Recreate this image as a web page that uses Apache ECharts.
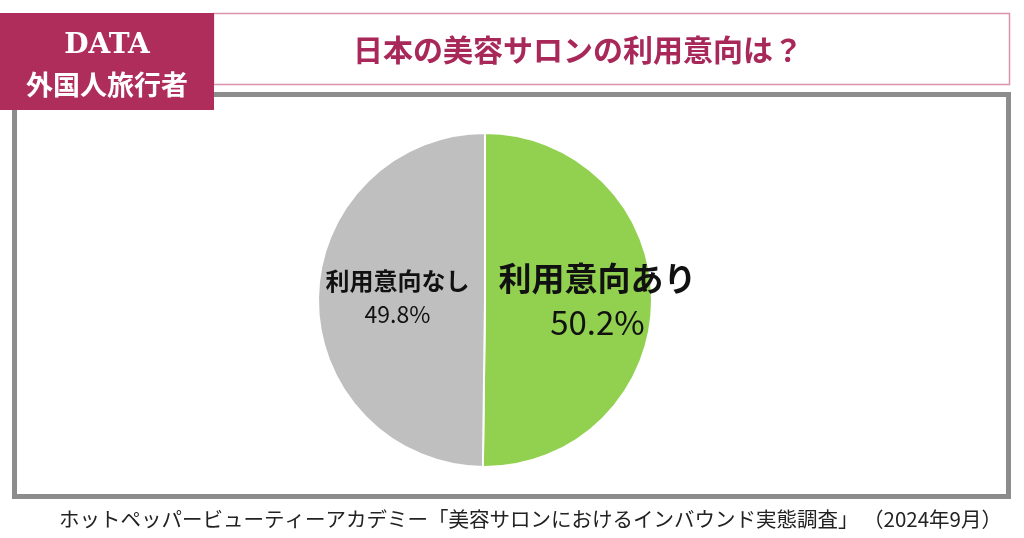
<!DOCTYPE html>
<html><head><meta charset="utf-8">
<script src="https://cdn.jsdelivr.net/npm/echarts@6/dist/echarts.min.js"></script>
<style>html,body{margin:0;padding:0;background:#fff}#c{width:1024px;height:538px}</style>
</head><body><div id="c"></div>
<script>
const categories = ['利用意向あり', '利用意向なし'];
const values = [50.2, 49.8];
const titleText = '日本の美容サロンの利用意向は？';
const badgeTop = 'DATA';
const badgeBottom = '外国人旅行者';
const sourceText = 'ホットペッパービューティーアカデミー「美容サロンにおけるインバウンド実態調査」 （2024年9月）';

const chart = echarts.init(document.getElementById('c'));
const font = '"Noto Sans CJK JP", "Noto Sans", sans-serif';
chart.setOption({
  animation: false,
  backgroundColor: '#fff',
  graphic: [
    { type: 'rect', shape: { x: 14.5, y: 94.5, width: 994, height: 402 }, style: { fill: '#fff', stroke: '#8c8c8c', lineWidth: 5 }, z: 1 },
    { type: 'rect', shape: { x: 213.5, y: 13.5, width: 796, height: 71 }, style: { fill: '#fff', stroke: '#D993AC', lineWidth: 1.5 }, z: 2 },
    { type: 'rect', shape: { x: 0, y: 13, width: 214, height: 97 }, style: { fill: '#AE2D5A' }, z: 3 },
    { type: 'text', x: 107, y: 46, style: { text: badgeTop, fill: '#fff', font: 'bold 28px "DejaVu Serif", serif', align: 'center', verticalAlign: 'middle', textShadowColor: 'rgba(0,0,0,0.35)', textShadowOffsetX: 1, textShadowOffsetY: 1, textShadowBlur: 0 }, z: 4 },
    { type: 'text', x: 107, y: 85, style: { text: badgeBottom, fill: '#fff', font: 'bold 27px ' + font, align: 'center', verticalAlign: 'middle' }, z: 4 },
    { type: 'text', x: 578, y: 50, style: { text: titleText, fill: '#A8285A', font: 'bold 30px ' + font, align: 'center', verticalAlign: 'middle' }, z: 4 },
    { type: 'text', x: 1002, y: 519, style: { text: sourceText, fill: '#222', font: '20.5px ' + font, align: 'right', verticalAlign: 'middle' }, z: 4 }
  ],
  series: [{
    type: 'pie',
    center: [485, 300],
    radius: 167,
    startAngle: 90,
    clockwise: true,
    z: 5,
    itemStyle: { borderColor: '#fff', borderWidth: 2 },
    label: {
      show: true,
      position: 'inside',
      fontFamily: font,
      color: '#111'
    },
    labelLine: { show: false },
    data: [
      { name: categories[0], value: values[0], itemStyle: { color: '#92D050' },
        label: { formatter: '{a|{b}}\n{b|{c}%}', offset: [26, 0], rich: {
          a: { fontSize: 33, fontWeight: 'bold', color: '#111', fontFamily: font, lineHeight: 44 },
          b: { fontSize: 33, color: '#111', fontFamily: font, lineHeight: 44 } } } },
      { name: categories[1], value: values[1], itemStyle: { color: '#BFBFBF' },
        label: { formatter: '{a|{b}}\n{b|{c}%}', offset: [-1, -2], rich: {
          a: { fontSize: 24, fontWeight: 'bold', color: '#111', fontFamily: font, lineHeight: 34 },
          b: { fontSize: 23, color: '#111', fontFamily: font, lineHeight: 34 } } } }
    ]
  }]
});
</script></body></html>
